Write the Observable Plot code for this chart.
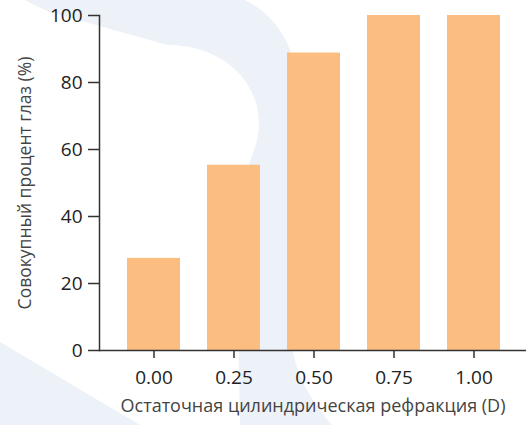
<!DOCTYPE html>
<html>
<head>
<meta charset="utf-8">
<script src="https://cdn.jsdelivr.net/npm/d3@7"></script>
<script src="https://cdn.jsdelivr.net/npm/@observablehq/plot@0.6"></script>
<style>
  html, body { margin: 0; padding: 0; background: #fff; }
  #wrap { position: relative; width: 526px; height: 425px; overflow: hidden; }
  #bg { position: absolute; left: 0; top: 0; }
  #chart { position: absolute; left: 0; top: 0; }
  #chart svg { display: block; }
</style>
</head>
<body>
<div id="wrap">
  <svg id="bg" width="526" height="425" viewBox="0 0 526 425">
    <path fill="#EDF2F8" d="M25,0 L245,0 C285,20 300,60 300,110 L291,340 C296,380 315,405 332,425 L240,425 L236,212 C238,180 252,165 258,135 C265,90 230,45 167,45 L50,12 C40,8 32,4 25,0 Z"/>
    <path fill="#EDF2F8" d="M0,342 L140,425 L0,425 Z"/>
  </svg>
  <div id="chart"></div>
</div>
<script>
const categories = ["0.00", "0.25", "0.50", "0.75", "1.00"];
const values = [27.5, 55.3, 88.8, 100, 100];
const yTicks = [0, 20, 40, 60, 80, 100];
const xLabel = "Остаточная цилиндрическая рефракция (D)";
const yLabel = "Совокупный процент глаз (%)";

const data = categories.map((c, i) => ({cat: c, value: values[i]}));

const chart = Plot.plot({
  width: 526,
  height: 425,
  marginTop: 15,
  marginBottom: 75,
  marginLeft: 99,
  marginRight: 0,
  style: {fontFamily: "'Open Sans', sans-serif", fontSize: "19px", color: "#222", background: "transparent"},
  x: {domain: categories, range: [113, 513], paddingInner: 0.34, paddingOuter: 0.17, label: null},
  y: {domain: [0, 100], label: null},
  marks: [
    Plot.barY(data, {x: "cat", y: "value", fill: "#FCBE80"}),
    Plot.ruleY([0], {stroke: "#333", strokeWidth: 1.5}),
    Plot.frame({anchor: "left", stroke: "#333", strokeWidth: 1.5}),
    Plot.axisX({tickSize: 8, tickPadding: 12, stroke: "#333", strokeWidth: 1.5, fontSize: 19, fill: "#222"}),
    Plot.axisY({ticks: yTicks, tickSize: 11, tickPadding: 6, stroke: "#333", strokeWidth: 1.5, fontSize: 19, fill: "#222", label: null}),
    Plot.text([xLabel], {frameAnchor: "bottom", dy: 61, fontSize: 18, fill: "#444", letterSpacing: 1, textAnchor: "middle"}),
    Plot.text([yLabel], {frameAnchor: "left", dx: -74, rotate: -90, fontSize: 17.5, fill: "#444", textAnchor: "middle"})
  ]
});
document.getElementById("chart").appendChild(chart);
</script>
</body>
</html>
